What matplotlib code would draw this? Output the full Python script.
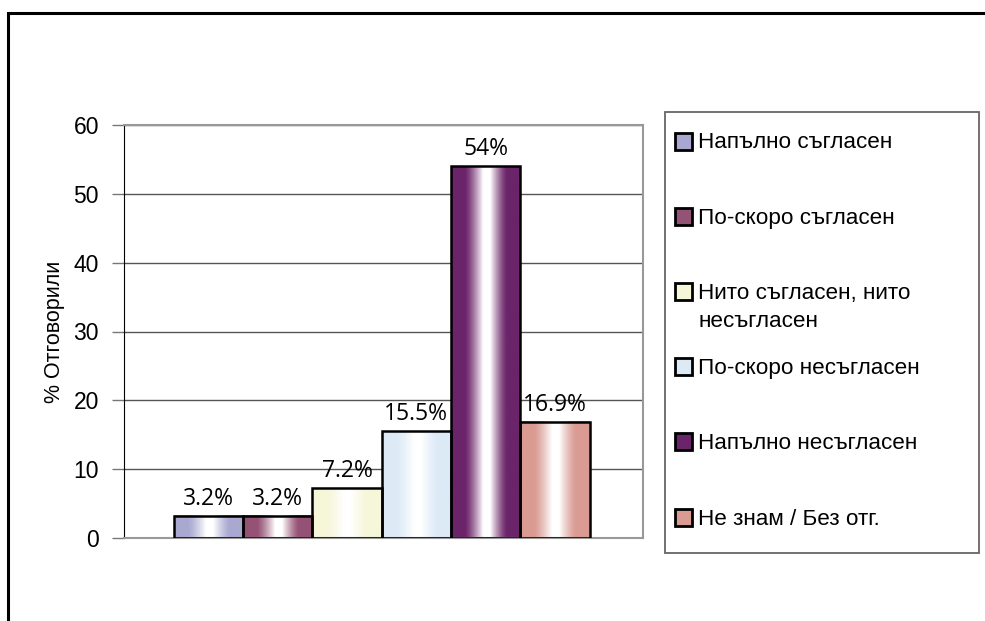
import numpy as np
import matplotlib.pyplot as plt
from matplotlib.patches import Rectangle
from matplotlib.colors import to_rgb

# Survey answers and their shares (%)
categories = ["Напълно съгласен", "По-скоро съгласен", "Нито съгласен, нито\nнесъгласен",
              "По-скоро несъгласен", "Напълно несъгласен", "Не знам / Без отг."]
values = [3.2, 3.2, 7.2, 15.5, 54, 16.9]
value_labels = ["3.2%", "3.2%", "7.2%", "15.5%", "54%", "16.9%"]
colors = ["#A9A8D0", "#945274", "#F6F6D9", "#DCEAF6", "#6B2469", "#DA9B93"]
yticks = [0, 10, 20, 30, 40, 50, 60]

plt.rcParams['font.family'] = ['Liberation Sans', 'DejaVu Sans']

fig = plt.figure(figsize=(9.85, 6.21), dpi=100)

# outer frame, cut off at right and bottom like the original
fig.patches.append(Rectangle((8 / 985, -0.2), 1.2, 1.2 - 13 / 621, transform=fig.transFigure,
                             fill=False, edgecolor='black', linewidth=2.2, zorder=0))

ax = fig.add_axes([124 / 985, 1 - 538 / 621, 519 / 985, 413 / 621])

# horizontal gradient: colour at the edges, white band in the middle
t = np.linspace(0, 1, 200)
w = np.interp(t, [0, 0.2, 0.46, 0.56, 0.8, 1], [0, 0, 1, 1, 0, 0])
w = w ** 1.3

for i, (v, c) in enumerate(zip(values, colors)):
    rgb = np.array(to_rgb(c))
    grad = (rgb[None, :] * (1 - w[:, None]) + w[:, None])[None, :, :]
    ax.imshow(grad, extent=(i - 0.5, i + 0.5, 0, v), aspect='auto', zorder=2,
              interpolation='bilinear')
    ax.add_patch(Rectangle((i - 0.5, 0), 1, v, fill=False, edgecolor='black',
                           linewidth=1.8, zorder=3))
    ax.annotate(value_labels[i], (i, v), xytext=(0, 11), textcoords='offset pixels',
                ha='center', va='baseline', fontsize=16.5,
                family=['Open Sans', 'DejaVu Sans'], zorder=4)

ax.set_xlim(-0.5 - 0.72, 5.5 + 0.77)
ax.set_ylim(0, 60)
ax.set_yticks(yticks)
ax.set_xticks([])
ax.yaxis.grid(True, color='#555555', linewidth=1.0, zorder=1)
ax.set_axisbelow(True)
ax.tick_params(axis='y', direction='out', length=9, width=1, color='#777777',
               labelsize=16.5, pad=9)
ax.spines['left'].set_color('black')
for s in ['top', 'right', 'bottom']:
    ax.spines[s].set_color('#999999')
    ax.spines[s].set_linewidth(1.5)
ax.set_ylabel("% Отговорили", fontsize=15.5, labelpad=6)

# legend box drawn by hand
lx0, ly0, lx1, ly1 = 665, 112, 979, 553
fig.patches.append(Rectangle((lx0 / 985, 1 - ly1 / 621), (lx1 - lx0) / 985, (ly1 - ly0) / 621,
                             transform=fig.transFigure, fill=True, facecolor='white',
                             edgecolor='#666666', linewidth=1.3, zorder=1))
entry_y = [141.5, 217, 292, 367, 442, 518]
for name, c, yy in zip(categories, colors, entry_y):
    fig.patches.append(Rectangle((675 / 985, 1 - (yy + 8) / 621), 17 / 985, 17 / 621,
                                 transform=fig.transFigure, facecolor=c, edgecolor='black',
                                 linewidth=2.0, zorder=2))
    for k, line in enumerate(name.split("\n")):
        fig.text(698 / 985, 1 - (yy + 7 + 28 * k) / 621, line, fontsize=16.2,
                 va='baseline', ha='left', zorder=3)

fig.savefig("out.png", dpi=100)
